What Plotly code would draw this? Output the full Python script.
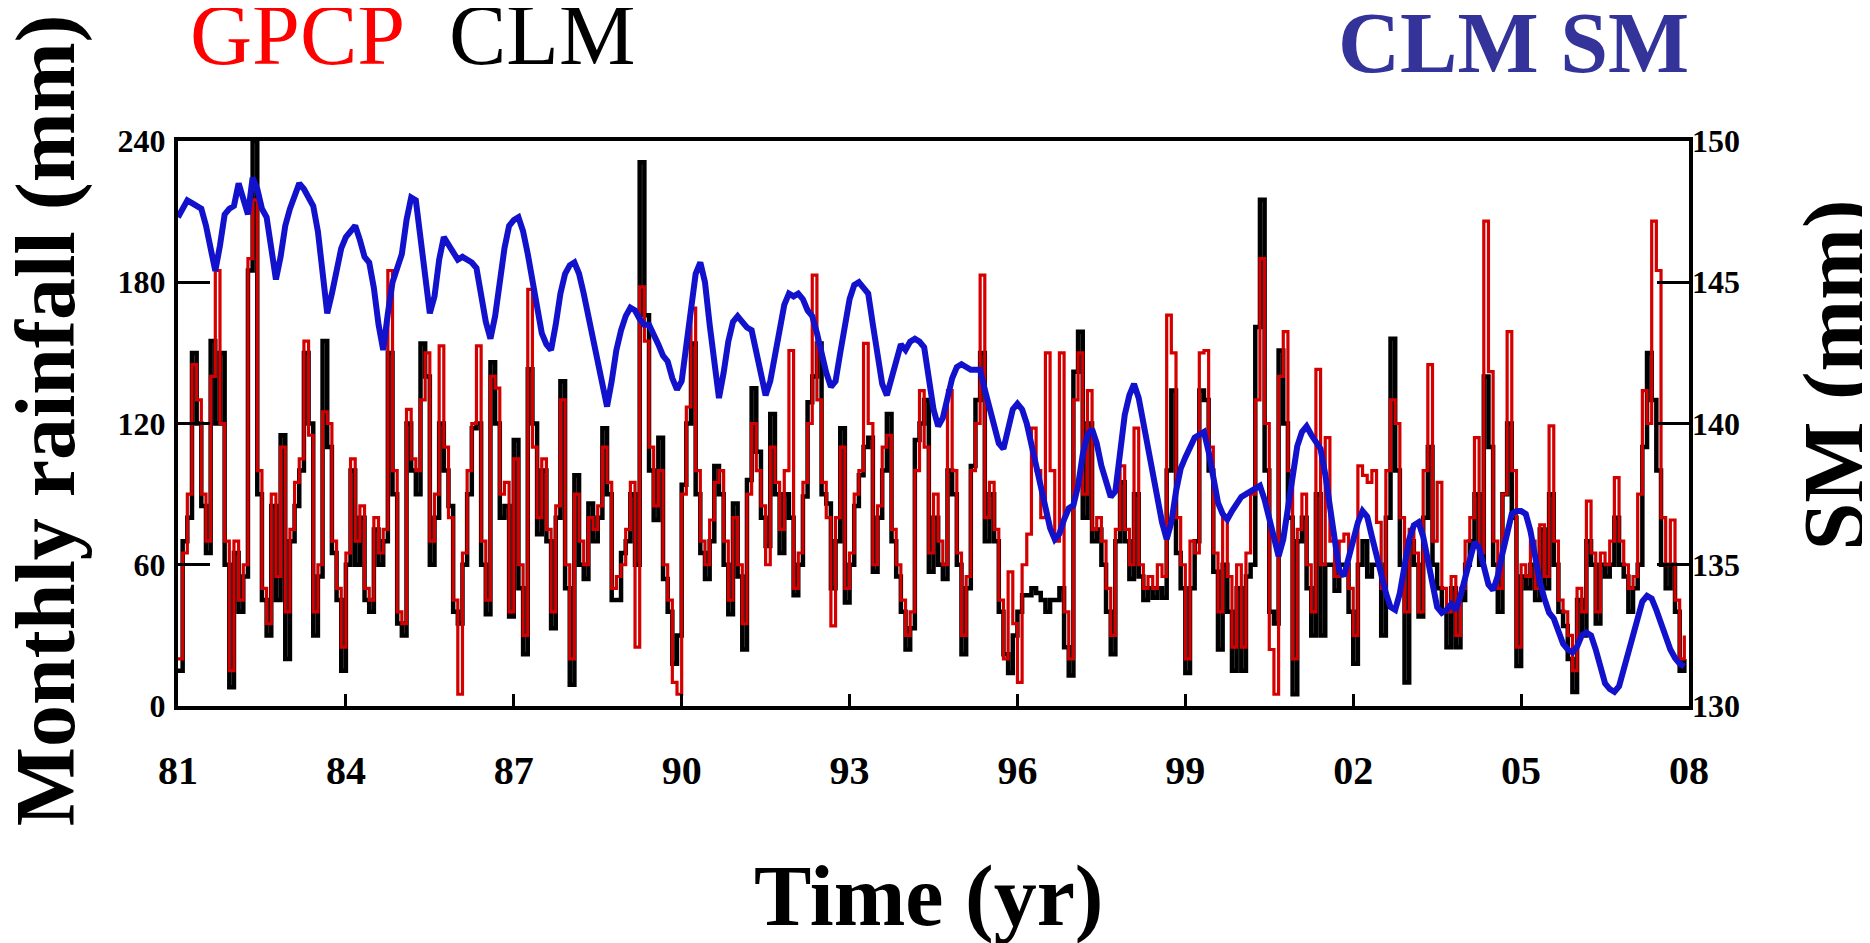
import plotly.graph_objects as go

# Monthly series, Jan 1981 - Dec 2007 (one row per year)
start_year = 1981

clm_rain = [
    15, 70, 80, 150, 120, 85, 65, 155, 120, 150, 60, 8,
    65, 40, 55, 185, 240, 90, 45, 30, 85, 45, 115, 20,
    70, 85, 100, 150, 120, 30, 55, 155, 110, 65, 45, 15,
    60, 100, 60, 80, 45, 40, 75, 60, 70, 150, 90, 35,
    30, 120, 100, 90, 154, 140, 60, 80, 120, 100, 85, 40,
    35, 60, 90, 118, 120, 60, 39, 146, 120, 80, 85, 38,
    113, 50, 22, 143, 120, 73, 100, 70, 33, 80, 138, 50,
    9, 98, 60, 54, 86, 70, 80, 118, 90, 45, 45, 65,
    70, 90, 60, 231, 166, 100, 79, 114, 54, 40, 18, 30,
    94, 120, 154, 90, 65, 54, 70, 102, 90, 60, 39, 86,
    55, 24, 96, 135, 108, 80, 68, 124, 90, 65, 90, 80,
    47, 60, 89, 129, 140, 154, 90, 86, 50, 70, 118, 44,
    60, 85, 98, 110, 114, 57, 80, 100, 124, 70, 55, 40,
    24, 33, 113, 120, 130, 57, 80, 60, 54, 100, 90, 60,
    22, 50, 102, 130, 150, 70, 90, 70, 40, 22, 14, 30,
    40, 47, 47, 50, 48, 45, 40, 45, 45, 50, 25, 13,
    142, 159, 80, 120, 70, 75, 60, 40, 22, 70, 95, 70,
    54, 90, 55, 45, 50, 46, 50, 46, 100, 134, 65, 50,
    14, 50, 70, 134, 130, 100, 57, 24, 60, 40, 15, 50,
    15, 55, 60, 161, 215, 100, 40, 35, 151, 120, 80, 5,
    70, 80, 50, 30, 90, 30, 60, 60, 49, 60, 60, 40,
    18, 60, 70, 55, 60, 60, 30, 80, 156, 100, 60, 10,
    70, 60, 38, 80, 110, 60, 50, 40, 25, 50, 25, 45,
    60, 70, 90, 60, 140, 110, 60, 40, 90, 120, 80, 17,
    55, 50, 60, 45, 75, 50, 90, 60, 40, 34, 20, 6,
    45, 30, 70, 60, 35, 60, 55, 60, 80, 60, 55, 40,
    50, 60, 110, 150, 130, 100, 60, 50, 60, 40, 15, 20,
]

gpcp_rain = [
    20, 65, 90, 145, 130, 90, 70, 140, 185, 120, 70, 15,
    70, 45, 60, 190, 215, 100, 50, 35, 90, 55, 110, 40,
    75, 95, 105, 155, 115, 40, 60, 125, 120, 70, 50, 25,
    65, 105, 70, 85, 50, 45, 80, 65, 75, 185, 100, 40,
    35, 126, 105, 100, 130, 150, 70, 90, 153, 110, 80, 45,
    5, 65, 100, 120, 153, 70, 45, 140, 135, 90, 95, 40,
    105, 60, 30, 177, 110, 80, 105, 75, 40, 85, 130, 60,
    20, 90, 70, 60, 80, 75, 85, 110, 95, 50, 55, 60,
    75, 95, 25, 178, 155, 110, 85, 100, 60, 45, 10, 5,
    90, 127, 169, 100, 70, 60, 79, 95, 100, 70, 45, 80,
    60, 35, 90, 120, 100, 85, 60, 110, 95, 75, 100, 151,
    50, 65, 95, 120, 183, 130, 95, 80, 34, 80, 110, 50,
    65, 90, 100, 154, 120, 60, 85, 110, 115, 75, 60, 45,
    30, 40, 100, 134, 110, 65, 90, 70, 60, 134, 100, 65,
    30, 55, 100, 120, 183, 80, 95, 75, 45, 20, 57, 35,
    10, 60, 73, 118, 100, 80, 150, 100, 70, 150, 40, 20,
    130, 150, 90, 134, 75, 80, 70, 50, 30, 75, 102, 75,
    60, 118, 60, 50, 55, 50, 60, 55, 166, 150, 80, 60,
    20, 70, 65, 150, 151, 110, 65, 40, 80, 55, 25, 60,
    25, 65, 90, 130, 190, 120, 24, 5, 140, 159, 100, 20,
    75, 90, 60, 40, 143, 60, 114, 70, 55, 70, 73, 50,
    30, 102, 98, 95, 100, 78, 50, 100, 130, 120, 80, 40,
    75, 65, 40, 100, 145, 70, 95, 50, 40, 55, 30, 50,
    70, 80, 114, 65, 206, 142, 70, 50, 90, 159, 100, 25,
    60, 55, 70, 50, 77, 55, 119, 70, 45, 40, 30, 15,
    50, 40, 87, 65, 40, 65, 60, 70, 97, 70, 60, 50,
    55, 90, 134, 120, 206, 185, 80, 60, 79, 45, 20, 30,
]

clm_sm = [
    147.3, 147.6, 147.9, 147.8, 147.7, 147.6, 147.0, 146.2, 145.4, 146.3, 147.4, 147.6,
    147.7, 148.5, 148.0, 147.4, 148.7, 148.3, 147.6, 147.3, 146.2, 145.1, 145.9, 147.0,
    147.6, 148.1, 148.5, 148.3, 148.0, 147.7, 146.8, 145.5, 143.9, 144.6, 145.5, 146.2,
    146.6, 146.8, 147.0, 146.5, 145.9, 145.7, 144.8, 143.5, 142.6, 143.9, 145.0, 145.5,
    146.0, 147.2, 148.0, 147.9, 146.5, 145.0, 143.9, 144.5, 145.8, 146.6, 146.3, 146.0,
    145.8, 145.9, 145.8, 145.7, 145.5, 144.6, 143.6, 143.0, 143.8, 145.0, 146.2, 147.0,
    147.2, 147.3, 146.8, 146.0, 145.0, 144.0, 143.2, 142.8, 142.6, 143.5, 144.6, 145.3,
    145.6, 145.7, 145.3, 144.6, 143.8, 143.0, 142.0, 141.2, 140.6, 141.5, 142.6, 143.3,
    143.8, 144.1, 144.0, 143.7, 143.5, 143.5, 143.2, 142.8, 142.4, 142.2, 141.6, 141.2,
    141.5, 142.8, 144.2, 145.3, 145.7, 145.0, 143.5, 142.0, 140.9, 141.8, 142.9, 143.6,
    143.8, 143.6, 143.4, 143.3, 142.6, 141.8, 141.0, 141.5, 142.5, 143.5, 144.2, 144.6,
    144.5, 144.6, 144.4, 144.0, 143.8, 143.2, 142.4, 141.8, 141.3, 141.5, 142.5, 143.6,
    144.4, 144.9, 145.0, 144.8, 144.6, 143.5, 142.4, 141.4, 141.0, 141.6, 142.3, 142.8,
    142.6, 142.9, 143.0, 142.9, 142.7, 141.6, 140.5, 139.9, 140.2, 140.9, 141.6, 142.0,
    142.1, 142.0, 141.9, 141.9, 141.9, 141.2, 140.5, 139.8, 139.3, 139.1, 139.9, 140.5,
    140.7, 140.5, 140.0, 139.3, 138.6, 137.8, 137.0, 136.3, 135.9, 136.1, 136.6, 137.0,
    137.1, 137.8, 138.9, 139.6, 139.8, 139.3, 138.5, 137.9, 137.4, 137.6, 139.0, 140.3,
    141.0, 141.4, 140.9, 140.0, 139.1, 138.2, 137.3, 136.5, 135.9, 136.5, 137.6, 138.4,
    138.8, 139.2, 139.5, 139.6, 139.7, 139.0, 138.0, 137.2, 136.8, 136.6, 136.9, 137.2,
    137.4, 137.5, 137.6, 137.7, 137.8, 137.3, 136.6, 135.9, 135.3, 135.9, 137.0, 138.3,
    139.2, 139.7, 139.9, 139.6, 139.3, 139.1, 138.2, 137.0, 135.9, 134.8, 134.6, 135.3,
    136.0, 136.5, 136.9, 136.7, 136.0, 135.3, 134.6, 134.0, 133.5, 133.4, 134.0, 135.0,
    135.9, 136.4, 136.5, 136.0, 135.2, 134.3, 133.5, 133.3, 133.4, 133.6, 133.4, 133.9,
    134.6, 135.3, 135.8, 135.6, 134.9, 134.3, 134.1, 134.6, 135.4, 136.2, 136.8, 136.9,
    136.9, 136.8, 136.2, 135.3, 134.4, 133.8, 133.3, 133.1, 132.6, 132.2, 132.0, 131.9,
    132.1, 132.5, 132.6, 132.5, 132.0, 131.3, 130.8, 130.6, 130.5, 130.7, 131.3, 131.9,
    132.6, 133.2, 133.7, 133.9, 133.8, 133.4, 132.9, 132.4, 132.0, 131.7, 131.5, 131.4,
]

year_ticks = [1981, 1984, 1987, 1990, 1993, 1996, 1999, 2002, 2005, 2008]
year_labels = ["81", "84", "87", "90", "93", "96", "99", "02", "05", "08"]
rain_ticks = [0, 60, 120, 180, 240]
sm_ticks = [130, 135, 140, 145, 150]

# time axis in decimal years, one point per month
t = [start_year + i / 12 for i in range(len(clm_rain))]

serif = "Liberation Serif, Times New Roman, serif"

fig = go.Figure()

fig.add_trace(go.Scatter(x=t, y=clm_rain, mode="lines", name="CLM",
                         line=dict(color="black", width=4.5, shape="hv")))
fig.add_trace(go.Scatter(x=t, y=gpcp_rain, mode="lines", name="GPCP",
                         line=dict(color="#d40000", width=3.2, shape="hv")))
fig.add_trace(go.Scatter(x=t, y=clm_sm, mode="lines", name="CLM SM", yaxis="y2",
                         line=dict(color="#1212cc", width=6)))

axis_common = dict(showline=True, linecolor="black", linewidth=4, mirror=True,
                   showgrid=False, zeroline=False, ticks="inside",
                   tickcolor="black", tickwidth=3)
tick_font = dict(family=serif, size=32, color="black", weight="bold")

fig.update_layout(
    width=1870, height=943,
    margin=dict(l=170, r=189, t=133, b=245),
    paper_bgcolor="white", plot_bgcolor="white",
    showlegend=False,
    xaxis=dict(range=[1981, 2008], tickvals=year_ticks, ticktext=year_labels,
               ticklen=12, ticklabelstandoff=26,
               tickfont=dict(family=serif, size=40, color="black", weight="bold"),
               **axis_common),
    yaxis=dict(range=[0, 240], tickvals=rain_ticks, ticklen=32, ticklabelstandoff=2,
               tickfont=tick_font, **axis_common),
    yaxis2=dict(range=[130, 150], tickvals=sm_ticks, overlaying="y", side="right",
                ticklen=32, ticklabelstandoff=2, showline=False, showgrid=False,
                zeroline=False, ticks="inside", tickcolor="black", tickwidth=3,
                tickfont=tick_font),
)

# titles as annotations so they can sit where the original has them
notes = [
    dict(text="GPCP", x=0.079, y=1.099, font=dict(color="#ff0000", size=86)),
    dict(text="CLM", x=0.241, y=1.099, font=dict(color="black", size=86)),
    dict(text="<b>CLM SM</b>", x=0.884, y=1.085, font=dict(color="#333399", size=86)),
    dict(text="<b>Time (yr)</b>", x=0.497, y=-0.425, font=dict(color="black", size=86)),
]
for n in notes:
    fig.add_annotation(xref="paper", yref="paper", xanchor="center", yanchor="bottom",
                       showarrow=False, text=n["text"], x=n["x"], y=n["y"],
                       font=dict(family=serif, **n["font"]))

fig.add_annotation(xref="paper", yref="paper", x=-0.0876, y=0.505, textangle=-90,
                   xanchor="center", yanchor="middle", showarrow=False,
                   text="<b>Monthly rainfall (mm)</b>",
                   font=dict(family=serif, size=84, color="black"))
fig.add_annotation(xref="paper", yref="paper", x=1.096, y=0.585, textangle=-90,
                   xanchor="center", yanchor="middle", showarrow=False,
                   text="<b>SM (mm)</b>",
                   font=dict(family=serif, size=86, color="black"))

fig.write_html("out.html")
